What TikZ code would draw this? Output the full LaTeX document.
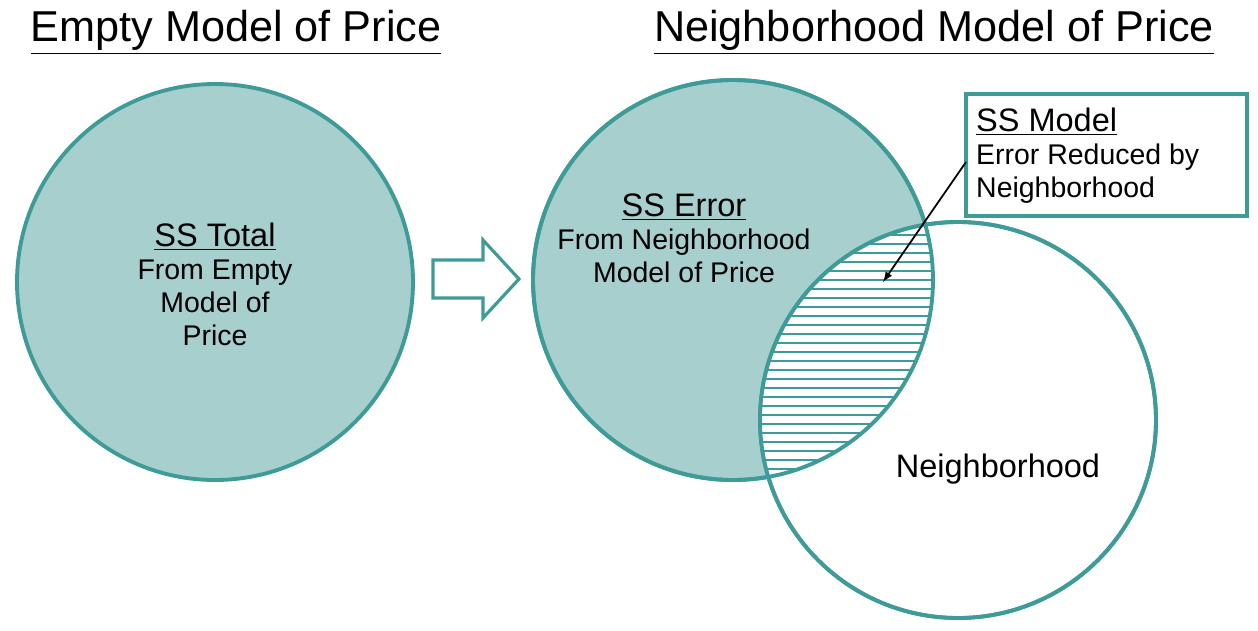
\documentclass[tikz,border=0pt]{standalone}
\usepackage{fontspec}
\setmainfont{Liberation Sans}
\begin{document}
\begin{tikzpicture}[x=0.02cm,y=-0.02cm,
  tealline/.style={draw=teal0,line width=2.2pt},
  title/.style={font=\fontsize{24.6}{28}\selectfont},
  lab/.style={font=\fontsize{16.2}{18.8}\selectfont,align=center},
  hd/.style={font=\fontsize{18.5}{20}\selectfont}]
\definecolor{teal0}{HTML}{3E9B97}
\definecolor{tealfill}{HTML}{A6CFCD}
\useasboundingbox (0,0) rectangle (1258,630);
\node[title] (t1) at (236,32) {\underline{Empty Model of Price}};
\node[title] (t2) at (934,32) {\underline{Neighborhood Model of Price}};
% left circle
\draw[tealline,fill=tealfill] (215,282) circle (198);
\node[lab] (c1) at (215,284) {{\fontsize{18.5}{20}\selectfont\underline{SS Total}}\\From Empty\\Model of\\Price};
% block arrow
\draw[tealline,fill=white,line width=1.8pt] (433,260) -- (483,260) -- (483,240) -- (519,279) -- (483,318) -- (483,298) -- (433,298) -- cycle;
% right circles
\draw[tealline,fill=tealfill] (733,280) circle (200);
\draw[tealline,fill=white] (958,420) circle (198);
\begin{scope}
\clip (733,280) circle (200);
\clip (958,420) circle (198);
\fill[white] (700,200) rectangle (1000,500);
\foreach \y in {226,235,...,490} \draw[teal0,line width=1pt] (700,\y) -- (1000,\y);
\end{scope}
\draw[tealline] (733,280) circle (200);
\draw[tealline] (958,420) circle (198);
\node[lab] (c2) at (684,238) {{\fontsize{18.5}{20}\selectfont\underline{SS Error}}\\From Neighborhood\\Model of Price};
\node[hd] (nb) at (998,469) {Neighborhood};
% box
\node[draw=teal0,line width=2pt,fill=white,minimum width=281*0.02cm,minimum height=122*0.02cm,anchor=north west] (box) at (964,92) {};
\node[lab,align=left,anchor=north west] (bt) at (970,102) {{\fontsize{18.5}{20}\selectfont\underline{SS Model}}\\Error Reduced by\\Neighborhood};
\coordinate (tip) at (883,282);
\draw[-latex,line width=1pt] (966,162) -- (tip);
\end{tikzpicture}
\end{document}
